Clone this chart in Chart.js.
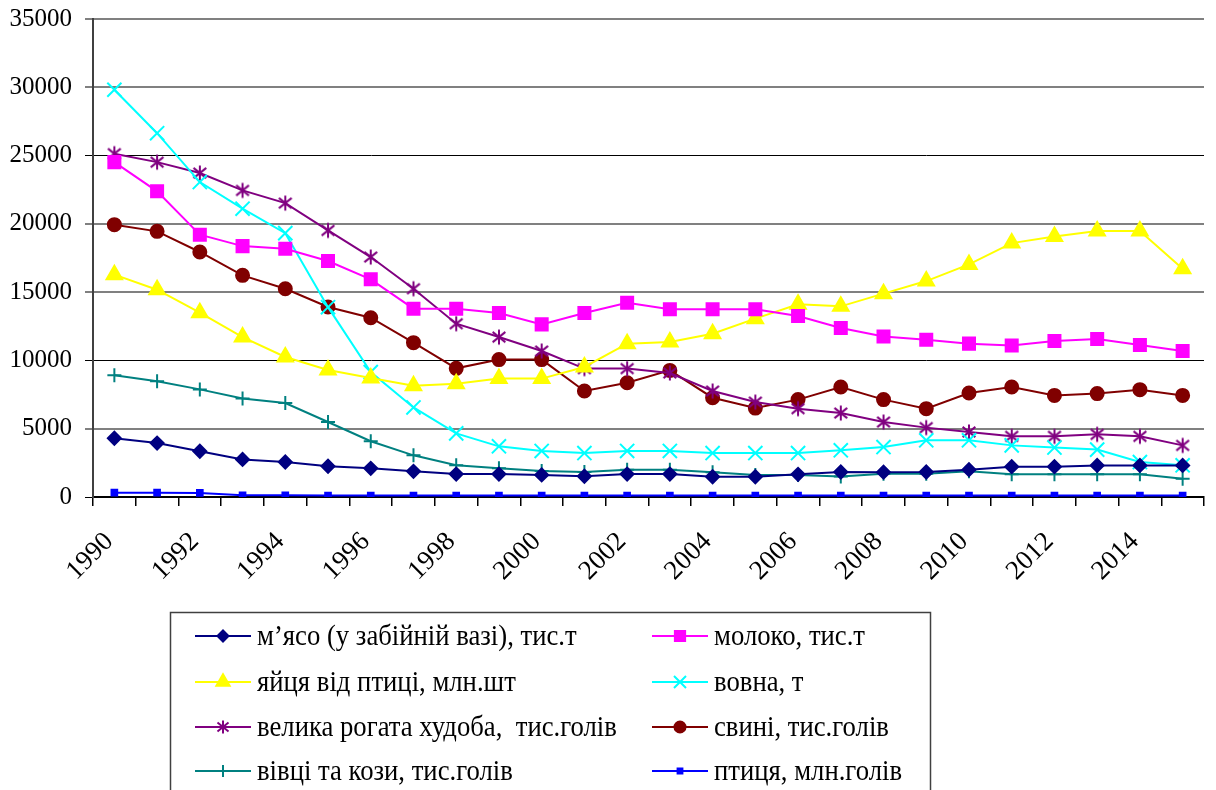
<!DOCTYPE html>
<html>
<head>
<meta charset="utf-8">
<script src="https://cdn.jsdelivr.net/npm/chart.js@4/dist/chart.umd.min.js"></script>
<style>
  html, body { margin: 0; padding: 0; background: #fff; }
  #wrap { width: 1216px; height: 790px; position: relative; }
</style>
</head>
<body>
<div id="wrap"><canvas id="chart" width="1216" height="790"></canvas></div>
<script>
// ---- data ----
const years = ["1990", "1991", "1992", "1993", "1994", "1995", "1996", "1997", "1998", "1999",
               "2000", "2001", "2002", "2003", "2004", "2005", "2006", "2007", "2008", "2009",
               "2010", "2011", "2012", "2013", "2014", "2015"];

const meat    = [4300, 3950, 3350, 2750, 2560, 2250, 2100, 1880, 1680, 1680, 1620, 1520, 1680, 1680, 1480, 1480, 1660, 1830, 1820, 1830, 2000, 2220, 2220, 2310, 2310, 2310];
const milk    = [24520, 22380, 19210, 18370, 18180, 17280, 15940, 13790, 13790, 13470, 12640, 13470, 14230, 13740, 13740, 13740, 13250, 12370, 11760, 11520, 11230, 11100, 11420, 11570, 11130, 10690];
const eggs    = [16280, 15180, 13500, 11710, 10250, 9300, 8720, 8150, 8300, 8670, 8670, 9520, 11230, 11350, 11960, 13060, 14110, 13960, 14890, 15810, 17030, 18590, 19080, 19470, 19470, 16720];
const wool    = [29820, 26640, 23060, 21110, 19320, 13900, 9150, 6560, 4660, 3710, 3370, 3220, 3370, 3370, 3220, 3220, 3220, 3420, 3660, 4150, 4150, 3780, 3620, 3470, 2560, 2320];
const cattle  = [25140, 24520, 23720, 22450, 21520, 19520, 17570, 15250, 12690, 11710, 10690, 9400, 9400, 9080, 7760, 6950, 6470, 6150, 5490, 5080, 4760, 4440, 4440, 4590, 4440, 3780];
const pigs    = [19940, 19450, 17940, 16230, 15250, 13910, 13130, 11300, 9420, 10060, 10060, 7760, 8370, 9270, 7270, 6510, 7130, 8050, 7130, 6470, 7610, 8050, 7440, 7570, 7860, 7440];
const sheep   = [8910, 8470, 7880, 7220, 6880, 5490, 4080, 3050, 2320, 2100, 1900, 1830, 2000, 2000, 1810, 1610, 1610, 1510, 1710, 1710, 1880, 1660, 1660, 1660, 1660, 1340];
const poultry = [320, 320, 300, 120, 120, 110, 110, 110, 110, 110, 110, 110, 110, 110, 110, 110, 110, 110, 110, 110, 110, 110, 110, 110, 110, 110];

const seriesLabels = [
  "м’ясо (у забійній вазі), тис.т",
  "молоко, тис.т",
  "яйця від птиці, млн.шт",
  "вовна, т",
  "велика рогата худоба,  тис.голів",
  "свині, тис.голів",
  "вівці та кози, тис.голів",
  "птиця, млн.голів",
];

const yTicksMax = 35000;
const yTicksStep = 5000;

const FONT = "'Liberation Serif', 'Times New Roman', serif";

// six-armed asterisk marker (vertical stroke + X), like the Excel one
function makeAsterisk(size, color) {
  const c = document.createElement("canvas");
  c.width = size;
  c.height = size;
  const g = c.getContext("2d");
  const m = size / 2, r = size / 2 - 1.5, d = r * 0.85;
  g.strokeStyle = color;
  g.lineWidth = 2;
  g.beginPath();
  g.moveTo(m, m - r); g.lineTo(m, m + r);
  g.moveTo(m - d, m - d * 0.8); g.lineTo(m + d, m + d * 0.8);
  g.moveTo(m + d, m - d * 0.8); g.lineTo(m - d, m + d * 0.8);
  g.stroke();
  return c;
}

// ------------------------
// Dataset builder
// ------------------------
function makeSeries(label, data, color, pointStyle, radius, legendStyle) {
  return {
    label: label,
    data: data,
    borderColor: color,
    backgroundColor: color,
    pointBackgroundColor: color,
    pointBorderColor: color,
    pointStyle: pointStyle,
    pointRadius: radius,
    pointHoverRadius: radius,
    pointBorderWidth: 2,
    borderWidth: 2,
    fill: false,
    tension: 0,
    legendStyle: legendStyle || pointStyle,
  };
}

const datasets = [
  makeSeries(seriesLabels[0], meat, "#000080", "rectRot", 6.5),
  makeSeries(seriesLabels[1], milk, "#FF00FF", "rect", 8.5),
  makeSeries(seriesLabels[2], eggs, "#FFFF00", "triangle", 9),
  makeSeries(seriesLabels[3], wool, "#00FFFF", "crossRot", 10),
  makeSeries(seriesLabels[4], cattle, "#800080", makeAsterisk(18, "#800080"), 8, makeAsterisk(16, "#800080")),
  makeSeries(seriesLabels[5], pigs, "#800000", "circle", 6.5),
  makeSeries(seriesLabels[6], sheep, "#008080", "cross", 7),
  makeSeries(seriesLabels[7], poultry, "#0000FF", "rect", 4),
];

// ------------------------
// Boxed two-column legend under the plot
// ------------------------
const legendCols = [195, 652];
const legendRows = [636, 682, 727, 771];

const boxedLegend = {
  id: "boxedLegend",
  afterDraw(chart) {
    const ctx = chart.ctx;
    ctx.save();
    ctx.strokeStyle = "#404040";
    ctx.lineWidth = 1.5;
    ctx.strokeRect(170.5, 612.5, 760, 200);
    chart.data.datasets.forEach((ds, i) => {
      const x0 = legendCols[i % 2];
      const y = legendRows[Math.floor(i / 2)];
      ctx.strokeStyle = ds.borderColor;
      ctx.fillStyle = ds.borderColor;
      ctx.lineWidth = 2;
      ctx.beginPath();
      ctx.moveTo(x0, y);
      ctx.lineTo(x0 + 56, y);
      ctx.stroke();
      Chart.helpers.drawPoint(ctx, {
        pointStyle: ds.legendStyle,
        radius: ds.pointRadius * 0.85,
        borderWidth: 2,
        rotation: 0,
      }, x0 + 28, y);
      // Times-like text, condensed as in the original
      ctx.save();
      ctx.translate(x0 + 62, y);
      ctx.scale(0.89, 1);
      ctx.font = "30px " + FONT;
      ctx.textBaseline = "middle";
      ctx.fillStyle = "#000";
      ctx.fillText(ds.label, 0, 1);
      ctx.restore();
    });
    ctx.restore();
  },
};

const isDarkLine = (v) => v === 0 || v === 10000 || v === 25000;

new Chart(document.getElementById("chart"), {
  type: "line",
  data: { labels: years, datasets: datasets },
  options: {
    responsive: false,
    animation: false,
    layout: { padding: { top: 19, right: 6, left: 0, bottom: 0 } },
    plugins: { legend: { display: false }, tooltip: { enabled: false } },
    scales: {
      x: {
        offset: true,
        grid: { offset: true, drawOnChartArea: false, drawTicks: true, tickLength: 9, color: "#000", lineWidth: 1.5 },
        border: { display: true, color: "#000", width: 2 },
        ticks: {
          autoSkip: false,
          maxRotation: 45,
          minRotation: 45,
          padding: 20,
          labelOffset: -5,
          color: "#000",
          font: { family: FONT, size: 27 },
          callback: function (v, i) { return i % 2 ? "" : this.getLabelForValue(v); },
        },
        afterFit: (scale) => {
          scale.height = 293;
          scale.paddingRight = 0;
        },
      },
      y: {
        min: 0,
        max: yTicksMax,
        grid: {
          color: (c) => (isDarkLine(c.tick.value) ? "#000" : "#808080"),
          lineWidth: (c) => (isDarkLine(c.tick.value) ? 1 : 2),
          tickLength: 8,
        },
        border: { display: true, color: "#404040", width: 2 },
        ticks: {
          stepSize: yTicksStep,
          padding: 13,
          color: "#000",
          font: { family: FONT, size: 25 },
          callback: (v) => String(v),
        },
        afterFit: (scale) => {
          scale.width = 93;
          scale.paddingTop = 0;
        },
      },
    },
  },
  plugins: [boxedLegend],
});
</script>
</body>
</html>
